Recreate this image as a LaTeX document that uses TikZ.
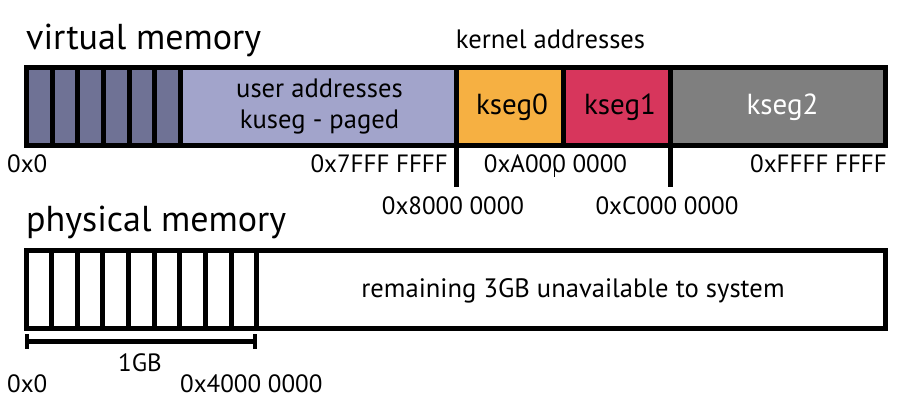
\documentclass[tikz,border=0pt]{standalone}
\usepackage{fontspec}
\setmainfont{PT Sans}
\definecolor{segdark}{HTML}{6F7295}
\definecolor{seglight}{HTML}{A2A4CB}
\definecolor{ksegzero}{HTML}{F6B042}
\definecolor{ksegone}{HTML}{D7365C}
\definecolor{ksegtwo}{HTML}{7F7F7F}
\begin{document}
\begin{tikzpicture}[x=1pt,y=-1pt,
  thick line/.style={line width=5pt},
  lbl/.style={inner sep=0pt,anchor=base,font=\fontsize{25}{25}\selectfont},
  txt/.style={lbl,font=\fontsize{26.6}{26.6}\selectfont},
  seg/.style={lbl,font=\fontsize{29}{29}\selectfont},
  title/.style={inner sep=0pt,anchor=base west,font=\fontsize{36}{36}\selectfont}]
\useasboundingbox (0,0) rectangle (906,406);
% virtual memory fills
\fill[segdark] (26,67.5) rectangle (180,145.5);
\fill[seglight] (180,67.5) rectangle (456,145.5);
\fill[ksegzero] (456,67.5) rectangle (563.5,145.5);
\fill[ksegone] (563.5,67.5) rectangle (670.5,145.5);
\fill[ksegtwo] (670.5,67.5) rectangle (885,145.5);
\foreach \x in {52,77.5,103.5,129,154,180,456,563.5}
  \draw[thick line] (\x,67.5) -- (\x,145.5);
\draw[thick line] (670.5,67.5) -- (670.5,187);
\draw[thick line] (456,145.5) -- (456,187);
\draw[thick line] (26,67.5) rectangle (885,145.5);
\draw[line width=1pt] (554,162) -- (554,177);
% texts virtual
\node[title] (vm) at (26,50) {virtual memory};
\node[txt] (ka) at (550.5,49) {kernel addresses};
\node[txt] (ua) at (319.5,98) {user addresses};
\node[txt] (ku) at (319.5,129) {kuseg - paged};
\node[seg] (k0) at (512,115) {kseg0};
\node[seg] (k1) at (620,115) {kseg1};
\node[seg,text=white] (k2) at (782.5,115) {kseg2};
\node[lbl,anchor=base west] (v0) at (7,173) {0x0};
\node[lbl,anchor=base east] (v7) at (448,173) {0x7FFF FFFF};
\node[lbl] (va) at (555.5,173) {0xA000 0000};
\node[lbl,anchor=base east] (vf) at (887,173) {0xFFFF FFFF};
\node[lbl] (v8) at (453,215) {0x8000 0000};
\node[lbl] (vc) at (667,215) {0xC000 0000};
% physical memory
\node[title] (pm) at (26,232) {physical memory};
\foreach \i in {1,...,9}
  \draw[thick line] ({26+25.65*\i},250.5) -- ({26+25.65*\i},328.5);
\draw[thick line] (26,250.5) rectangle (885,328.5);
\node[txt] (rem) at (573,298) {remaining 3GB unavailable to system};
\coordinate (bl) at (27,342);
\coordinate (br) at (255,342);
\draw[thick line] (bl) -- (br);
\draw[line width=3.5pt] ([yshift=-7]bl) -- ([yshift=8]bl);
\draw[line width=3.5pt] ([yshift=-7]br) -- ([yshift=8]br);
\node[lbl] (gb) at (140,372) {1GB};
\node[lbl,anchor=base west] (p0) at (7,392) {0x0};
\node[lbl,anchor=base west] (p4) at (180,392) {0x4000 0000};
\end{tikzpicture}
\end{document}
